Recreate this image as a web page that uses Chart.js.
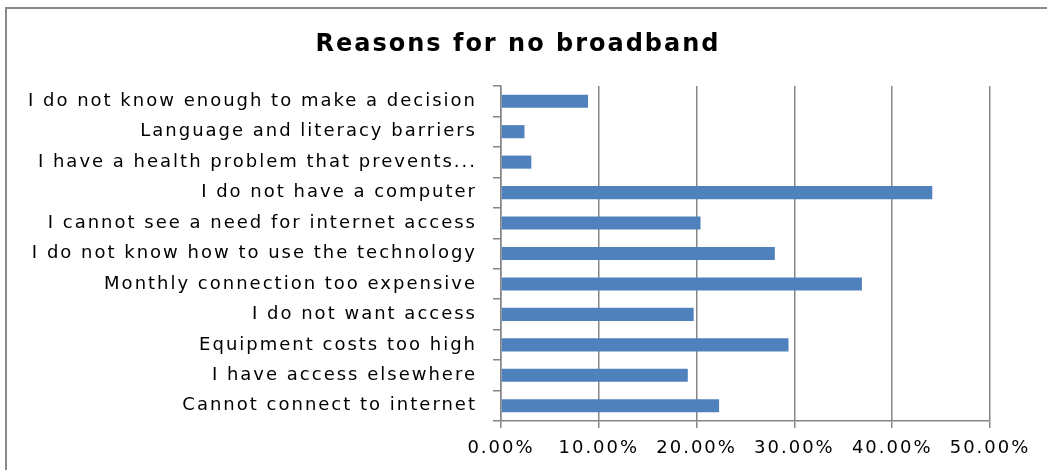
<!DOCTYPE html>
<html>
<head>
<meta charset="utf-8">
<script src="https://cdn.jsdelivr.net/npm/chart.js@4/dist/chart.umd.min.js"></script>
<style>
  body { margin: 0; background: #fff; overflow: hidden; }
  #wrap { position: relative; width: 1047px; height: 470px; overflow: hidden; }
  #frame { position: absolute; left: 5px; top: 7px; right: -10px; bottom: -10px;
           border-left: 2px solid #8a8a8a; border-top: 2px solid #8a8a8a; }
  canvas { position: absolute; left: 0; top: 0; }
</style>
</head>
<body>
<div id="wrap">
  <div id="frame"></div>
  <canvas id="grafico"></canvas>
</div>
<script>
// dados do gráfico (de cima para baixo)
const motivos = [
  'I do not know enough to make a decision',
  'Language and literacy barriers',
  'I have a health problem that prevents...',
  'I do not have a computer',
  'I cannot see a need for internet access',
  'I do not know how to use the technology',
  'Monthly connection too expensive',
  'I do not want access',
  'Equipment costs too high',
  'I have access elsewhere',
  'Cannot connect to internet'
];
const percentuais = [8.9, 2.4, 3.1, 44.1, 20.4, 28.0, 36.9, 19.7, 29.4, 19.1, 22.3];
const tituloGrafico = 'Reasons for no broadband';
const eixoMin = 0, eixoMax = 50, eixoPasso = 10;

const cinza = '#868686';
const fonteRotulos = { family: 'DejaVu Sans', size: 18 };

// o texto da referência é bem largo: aplica espaçamento entre letras no canvas
const espacamento = {
  id: 'espacamento',
  beforeLayout: c => { c.ctx.letterSpacing = '2px'; },
  beforeDraw: c => { c.ctx.letterSpacing = '2px'; }
};

const ctx = document.getElementById('grafico').getContext('2d');
new Chart(ctx, {
  type: 'bar',
  plugins: [espacamento],
  data: {
    labels: motivos,
    datasets: [{
      data: percentuais,
      backgroundColor: '#4F81BD',
      borderWidth: 0,
      barPercentage: 0.43,
      categoryPercentage: 1
    }]
  },
  options: {
    indexAxis: 'y',
    responsive: true,
    maintainAspectRatio: false,
    animation: false,
    layout: { padding: { left: 0, right: 11, top: 0, bottom: 9 } },
    plugins: {
      legend: { display: false },
      tooltip: { enabled: false },
      title: {
        display: true,
        text: tituloGrafico,
        color: '#000',
        font: { family: 'DejaVu Sans', weight: 'bold', size: 24, lineHeight: 1.1 },
        padding: { top: 32, bottom: 27.6 }
      }
    },
    scales: {
      x: {
        min: eixoMin,
        max: eixoMax,
        ticks: {
          stepSize: eixoPasso,
          color: '#000',
          font: fonteRotulos,
          padding: 10,
          callback: v => v.toFixed(2) + '%'
        },
        grid: { color: cinza, lineWidth: 1.5, tickLength: 7 },
        border: { color: cinza, width: 1.5 },
        // margem direita da área do gráfico
        afterFit: s => { s.height = 40; s.paddingRight = 57; }
      },
      y: {
        ticks: { color: '#000', font: fonteRotulos, padding: 16 },
        grid: { color: cinza, lineWidth: 1.5, tickLength: 8, drawOnChartArea: false, offset: true },
        border: { color: cinza, width: 1.5 },
        afterFit: s => { s.width = 501; }
      }
    }
  }
});
</script>
</body>
</html>
